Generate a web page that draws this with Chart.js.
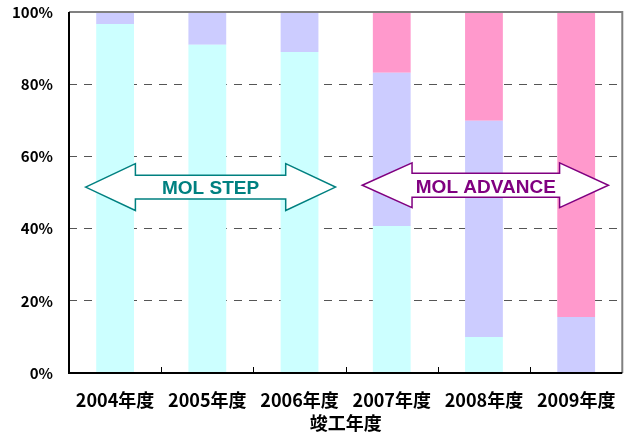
<!DOCTYPE html>
<html>
<head>
<meta charset="utf-8">
<script src="https://cdn.jsdelivr.net/npm/chart.js@4/dist/chart.umd.min.js"></script>
<style>
  html, body { margin: 0; padding: 0; background: #fff; }
  #wrap { width: 632px; height: 438px; }
</style>
</head>
<body>
<div id="wrap"><canvas id="chart" width="632" height="438"></canvas></div>
<script>
// データ
var years = ['2004年度', '2005年度', '2006年度', '2007年度', '2008年度', '2009年度'];
var seriesCyan = [96.7, 90.9, 88.9, 40.7, 10.0, 0];
var seriesLavender = [3.3, 9.1, 11.1, 42.5, 59.9, 15.5];
var seriesPink = [0, 0, 0, 16.8, 30.1, 84.5];
var yTicks = [0, 20, 40, 60, 80, 100];

var jpFont = '"Noto Sans CJK JP", "Noto Sans", sans-serif';

// 矢印の位置(カテゴリ値と%で指定)
var arrows = [
  { text: 'MOL STEP', color: '#008080', from: -0.32, to: 2.39, headL: 0.22, headR: 1.85, y: 51.5, head: 6.5, shaft: 3.3 },
  { text: 'MOL ADVANCE', color: '#800080', from: 2.68, to: 5.35, headL: 3.22, headR: 4.82, y: 52.0, head: 6.2, shaft: 3.3 }
];

var decorPlugin = {
  id: 'decor',
  afterDatasetsDraw: function(chart) {
    var ctx = chart.ctx;
    var xs = chart.scales.x, ys = chart.scales.y;
    var area = chart.chartArea;
    ctx.save();
    // 上と右の枠線
    ctx.strokeStyle = '#808080';
    ctx.lineWidth = 2;
    ctx.beginPath();
    ctx.moveTo(area.left, area.top);
    ctx.lineTo(area.right, area.top);
    ctx.lineTo(area.right, area.bottom);
    ctx.stroke();
    // 軸
    ctx.strokeStyle = '#000';
    ctx.beginPath();
    ctx.moveTo(area.left, area.top);
    ctx.lineTo(area.left, area.bottom);
    ctx.lineTo(area.right, area.bottom);
    ctx.stroke();
    // x軸の目盛り(内向き)
    ctx.lineWidth = 1;
    for (var i = 0; i < years.length - 1; i++) {
      var px = Math.round(xs.getPixelForValue(i + 0.5)) + 0.5;
      ctx.beginPath();
      ctx.moveTo(px, area.bottom);
      ctx.lineTo(px, area.bottom - 6);
      ctx.stroke();
    }
    // 矢印
    arrows.forEach(function(a) {
      var x1 = xs.getPixelForValue(a.from), x2 = xs.getPixelForValue(a.to);
      var hl = xs.getPixelForValue(a.headL), hr = xs.getPixelForValue(a.headR);
      var yc = ys.getPixelForValue(a.y);
      var hh = ys.getPixelForValue(a.y - a.head) - yc;
      var sh = ys.getPixelForValue(a.y - a.shaft) - yc;
      ctx.beginPath();
      ctx.moveTo(x1, yc);
      ctx.lineTo(hl, yc - hh);
      ctx.lineTo(hl, yc - sh);
      ctx.lineTo(hr, yc - sh);
      ctx.lineTo(hr, yc - hh);
      ctx.lineTo(x2, yc);
      ctx.lineTo(hr, yc + hh);
      ctx.lineTo(hr, yc + sh);
      ctx.lineTo(hl, yc + sh);
      ctx.lineTo(hl, yc + hh);
      ctx.closePath();
      ctx.fillStyle = '#fff';
      ctx.fill();
      ctx.strokeStyle = a.color;
      ctx.lineWidth = 1.5;
      ctx.stroke();
      ctx.fillStyle = a.color;
      ctx.font = 'bold 19px "Liberation Sans", Arial, sans-serif';
      ctx.textAlign = 'center';
      ctx.textBaseline = 'middle';
      ctx.fillText(a.text, (hl + hr) / 2, yc + 2);
    });
    ctx.restore();
  }
};

new Chart(document.getElementById('chart').getContext('2d'), {
  type: 'bar',
  data: {
    labels: years,
    datasets: [
      { label: 'A', data: seriesCyan, backgroundColor: '#CCFFFF' },
      { label: 'B', data: seriesLavender, backgroundColor: '#CCCCFF' },
      { label: 'C', data: seriesPink, backgroundColor: '#FF99CC' }
    ]
  },
  options: {
    responsive: false,
    animation: false,
    devicePixelRatio: 1,
    layout: { padding: { top: 12, right: 7, left: 0, bottom: 0 } },
    datasets: { bar: { categoryPercentage: 1, barPercentage: 0.41 } },
    plugins: {
      legend: { display: false },
      tooltip: { enabled: false }
    },
    scales: {
      x: {
        stacked: true,
        afterFit: function(scale) { scale.height = 65; },
        grid: { display: false, drawTicks: false },
        border: { display: false },
        ticks: {
          color: '#000',
          padding: 16,
          font: { family: jpFont, size: 18, weight: 'bold' }
        },
        title: {
          display: true,
          text: '竣工年度',
          color: '#000',
          padding: { top: 0, bottom: 4 },
          font: { family: jpFont, size: 18, weight: 'bold' }
        }
      },
      y: {
        stacked: true,
        min: 0,
        max: 100,
        afterBuildTicks: function(scale) {
          scale.ticks = yTicks.map(function(v) { return { value: v }; });
        },
        afterFit: function(scale) {
          scale.width = 69;
          scale.paddingTop = 0;
          scale.paddingBottom = 0;
        },
        grid: {
          drawTicks: false,
          color: function(c) {
            var v = c.tick ? c.tick.value : 0;
            return (v === 0 || v === 100) ? 'rgba(0,0,0,0)' : '#555';
          },
          lineWidth: 1
        },
        border: { display: false, dash: [8, 7] },
        ticks: {
          color: '#000',
          padding: 16,
          font: { family: jpFont, size: 15, weight: 'bold' },
          callback: function(v) { return v + '%'; }
        }
      }
    }
  },
  plugins: [decorPlugin]
});
</script>
</body>
</html>
